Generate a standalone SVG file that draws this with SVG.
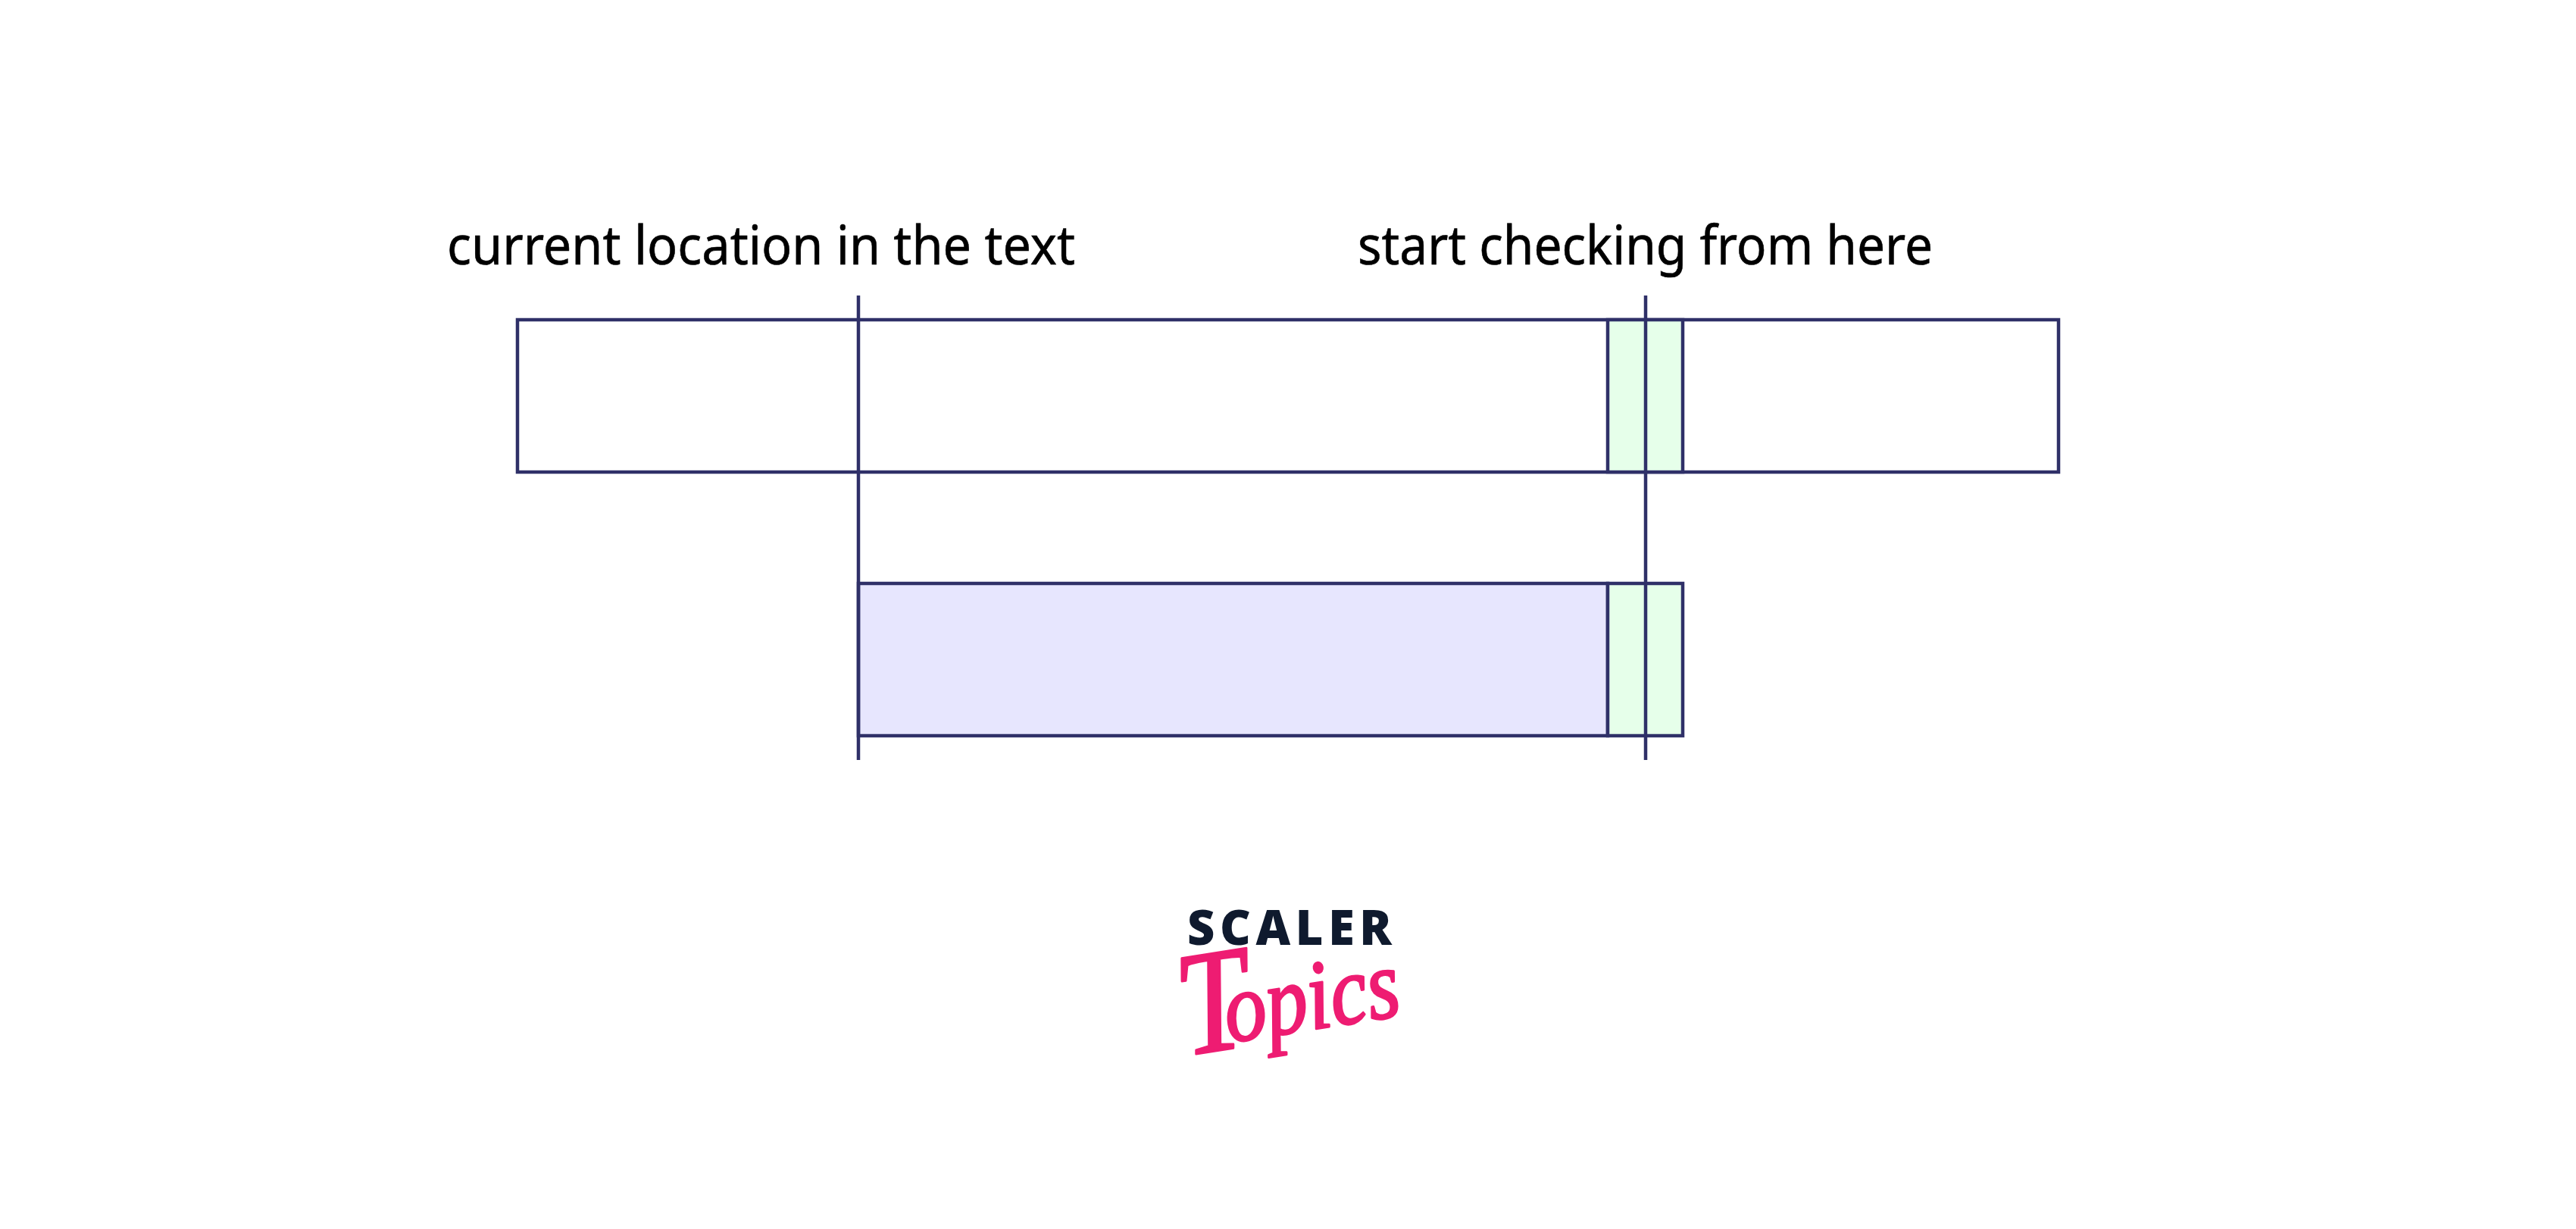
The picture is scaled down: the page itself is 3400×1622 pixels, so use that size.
<svg xmlns="http://www.w3.org/2000/svg" width="3400" height="1622" viewBox="0 0 3400 1622">
  <style>
    .box { stroke: #2f3068; stroke-width: 4.5; fill: none; }
    .mark { stroke: #2f3068; stroke-width: 4.5; fill: none; }
    .label { font-family: "Noto Sans", "Open Sans", sans-serif; font-size: 72px; fill: #000; stroke: #000; stroke-width: 0.6; }
    .brand { font-family: "Noto Sans", "Open Sans", sans-serif; font-size: 63px; font-weight: 900; fill: #0f1a2e; }
    .script { font-family: "Liberation Serif", serif; font-style: italic; fill: #ee1c72; stroke: #ee1c72; stroke-width: 3; stroke-linejoin: round; }
  </style>
  <rect width="3400" height="1622" fill="#fff"/>

  <g id="text-bar">
    <rect class="box" x="683" y="422" width="2034" height="201"/>
  </g>
  <g id="text-window">
    <rect class="box" x="2122" y="422" width="99" height="201" style="fill:#e6ffea"/>
  </g>
  <g id="pattern-bar">
    <rect class="box" x="1133" y="770" width="989" height="201" style="fill:#e7e6fe"/>
  </g>
  <g id="pattern-window">
    <rect class="box" x="2122" y="770" width="99" height="201" style="fill:#e6ffea"/>
  </g>

  <g id="connectors">
    <line class="mark" x1="1133" y1="390" x2="1133" y2="1003"/>
    <line class="mark" x1="2172" y1="390" x2="2172" y2="1003"/>
  </g>

  <g id="label-current">
    <text class="label" x="590" y="349" textLength="829" lengthAdjust="spacingAndGlyphs">current location in the text</text>
  </g>
  <g id="label-start">
    <text class="label" x="1792" y="349" textLength="759" lengthAdjust="spacingAndGlyphs">start checking from here</text>
  </g>

  <g id="logo">
    <text class="brand" x="1567" y="1247" textLength="270" lengthAdjust="spacing">SCALER</text>
    <text class="script" transform="translate(1622 1376) rotate(-9) scale(.85 1)"><tspan x="-70" y="8" font-size="195">T</tspan><tspan x="0" y="0" font-size="130">opics</tspan></text>
  </g>
</svg>
